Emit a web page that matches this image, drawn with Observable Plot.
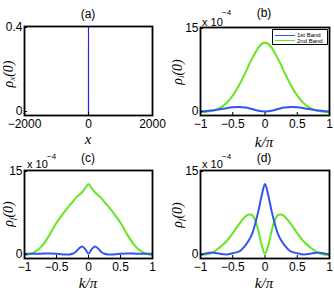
<!DOCTYPE html>
<html><head><meta charset="utf-8">
<script src="https://cdn.jsdelivr.net/npm/d3@7"></script>
<script src="https://cdn.jsdelivr.net/npm/@observablehq/plot@0.6"></script>
<style>
body{margin:0;background:#fff;}
#root{position:relative;width:334px;height:291px;overflow:hidden;background:#fff;font-family:"Liberation Sans",Arial,sans-serif;color:#000;}
.panel{position:absolute;}
.t{position:absolute;white-space:nowrap;line-height:1;}
.title{font-size:12px;transform:translate(-50%,-50%);}
.ylab{font-family:"Liberation Serif","DejaVu Serif",serif;font-style:italic;font-size:14px;line-height:0.8;transform:translate(-50%,-50%) rotate(-90deg);}
.xlab{font-family:"Liberation Serif","DejaVu Serif",serif;font-style:italic;font-size:15px;line-height:0.8;transform:translate(-50%,-50%);}
.ylab sub{font-size:9px;vertical-align:-2px;line-height:0.8;}
.exp{font-size:11px;transform:translateY(-50%);}
.sup{font-size:8px;transform:translateY(-50%);}
.legend{position:absolute;border:1.5px solid #000;background:#fff;box-sizing:border-box;}
.lrow{position:absolute;left:2px;height:6px;font-size:6px;line-height:6px;white-space:nowrap;}
.lrow span.sw{display:inline-block;width:20px;height:0;border-top:1.5px solid;vertical-align:middle;margin-right:2px;}
</style>
</head><body>
<div id="root"></div>
<script>
// ---- data ----
const xTicksA = [-2000, 0, 2000];
const xTickLabelsA = ["−2000", "0", "2000"];
const yTicksA = [0, 0.4];
const yTickLabelsA = ["0", "0.4"];
const kTicks = [-1, -0.5, 0, 0.5, 1];
const kTickLabels = ["−1", "−0.5", "0", "0.5", "1"];
const rhoTicks = [0, 15];
const rhoTickLabels = ["0", "15"];

// panel (a): spatial density, a single spike at x = 0
const posA = [-2000, -1, 0, 1, 2000];
const rhoA = [0, 0, 0.4, 0, 0];

// k grid (units of pi) for panels (b)-(d), values in units of 1e-4
const kValues = [-1,-0.9,-0.8,-0.7,-0.6,-0.5,-0.4,-0.3,-0.25,-0.2,-0.15,-0.1,-0.05,0,0.05,0.1,0.15,0.2,0.25,0.3,0.4,0.5,0.6,0.7,0.8,0.9,1];
const band1B = [0.7,0.75,0.9,1.05,1.25,1.4,1.45,1.35,1.25,1.1,0.95,0.8,0.72,0.7,0.72,0.8,0.95,1.1,1.25,1.35,1.45,1.4,1.25,1.05,0.9,0.75,0.7];
const band2B = [0.55,0.65,0.85,1.3,2.1,3.4,5.2,7.4,8.6,9.7,10.7,11.6,12.2,12.4,12.2,11.6,10.7,9.7,8.6,7.4,5.2,3.4,2.1,1.3,0.85,0.65,0.55];
const band1C = [0.8,0.8,0.8,0.85,0.85,0.8,0.7,0.7,0.8,1.1,1.7,2.05,1.6,0.8,1.6,2.05,1.7,1.1,0.8,0.7,0.7,0.8,0.85,0.85,0.8,0.8,0.8];
const band2C = [0.6,0.8,1.4,2.5,4.2,6.1,7.6,9.0,9.6,10.3,10.8,11.3,12.0,12.7,12.0,11.3,10.8,10.3,9.6,9.0,7.6,6.1,4.2,2.5,1.4,0.8,0.6];
const band1D = [0.7,0.9,1.0,0.8,0.7,0.9,1.2,2.3,3.1,4.2,6.0,8.2,10.8,12.7,10.8,8.2,6.0,4.2,3.1,2.3,1.2,0.9,0.7,0.8,1.0,0.9,0.7];
const band2D = [0.6,0.7,1.1,1.9,2.9,4.3,5.9,7.2,7.5,7.4,6.5,4.6,2.2,0.8,2.2,4.6,6.5,7.4,7.5,7.2,5.9,4.3,2.9,1.9,1.1,0.7,0.6];

const seriesNames = ["1st Band", "2nd Band"];
const BLUE = "#3355ee", GREEN = "#66e620";

const root = document.getElementById("root");
const baseStyle = {background: "transparent", fontFamily: "'Liberation Sans', Arial, sans-serif", fontSize: "12px", color: "#000", overflow: "visible"};

function place(svg, left, top) {
  const d = document.createElement("div");
  d.className = "panel"; d.style.left = left + "px"; d.style.top = top + "px";
  d.appendChild(svg); root.appendChild(d);
}
function txt(cls, html, x, y) {
  const e = document.createElement("div");
  e.className = "t " + cls; e.innerHTML = html;
  e.style.left = x + "px"; e.style.top = y + "px";
  root.appendChild(e);
}

// y axis split so the bottom label sits a little above its tick, as in the reference
function yAxes(ticks, labels) {
  return [
    Plot.axisY({ticks: [ticks[0]], tickFormat: () => labels[0], tickSize: -3, tickPadding: 5, label: null, fontSize: 12, dy: -4}),
    Plot.axisY({ticks: [ticks[1]], tickFormat: () => labels[1], tickSize: -3, tickPadding: 5, label: null, fontSize: 12, dy: 1})
  ];
}

// panel (a)
place(Plot.plot({
  width: 167, height: 145, marginLeft: 24, marginRight: 15, marginTop: 26, marginBottom: 30,
  style: baseStyle,
  x: {domain: [-2000, 2000]}, y: {domain: [0, 0.4]},
  marks: [
    Plot.line(posA, {x: (d) => d, y: rhoA, stroke: "#2b2bd6", strokeWidth: 1.2, clip: true}),
    Plot.axisX({ticks: xTicksA, tickFormat: (d, i) => xTickLabelsA[i], tickSize: -3, tickPadding: 7, label: null, fontSize: 12}),
    ...yAxes(yTicksA, yTickLabelsA),
    Plot.frame({stroke: "#000", strokeWidth: 1.8})
  ]
}), 0, 0);

function kPanel(blue, green, ml, mr, mt, h) {
  return Plot.plot({
    width: 167, height: h, marginLeft: ml, marginRight: mr, marginTop: mt, marginBottom: h - mt - 88,
    style: baseStyle,
    x: {domain: [-1, 1]}, y: {domain: [0, 15]},
    marks: [
      Plot.line(kValues, {x: (d) => d, y: green, stroke: GREEN, strokeWidth: 2, curve: "catmull-rom", clip: true}),
      Plot.line(kValues, {x: (d) => d, y: blue, stroke: BLUE, strokeWidth: 2, curve: "catmull-rom", clip: true}),
      Plot.axisX({ticks: kTicks, tickFormat: (d, i) => kTickLabels[i], tickSize: -3, tickPadding: 7, label: null, fontSize: 12}),
      ...yAxes(rhoTicks, rhoTickLabels),
      Plot.frame({stroke: "#000", strokeWidth: 1.8})
    ]
  });
}

place(kPanel(band1B, band2B, 33, 5, 27, 145), 167, 0);
place(kPanel(band1C, band2C, 24, 15, 25, 146), 0, 145);
place(kPanel(band1D, band2D, 33, 5, 25, 146), 167, 145);

// titles
txt("title", "(a)", 88, 14);
txt("title", "(b)", 264, 13);
txt("title", "(c)", 88, 158);
txt("title", "(d)", 264, 158);

// exponent labels
txt("exp", "x 10", 202, 22); txt("sup", "−4", 222, 13);
txt("exp", "x 10", 27, 164); txt("sup", "−4", 47, 157);
txt("exp", "x 10", 202, 164); txt("sup", "−4", 222, 157);

// axis labels
txt("ylab", "ρ<sub>x</sub>(0)", 10, 74);
txt("ylab", "ρ<sub>i</sub>(0)", 179, 72);
txt("ylab", "ρ<sub>f</sub>(0)", 10, 214);
txt("ylab", "ρ<sub>f</sub>(0)", 179, 215);
txt("xlab", "x", 88, 139);
txt("xlab", "k/π", 264, 142);
txt("xlab", "k/π", 88, 283);
txt("xlab", "k/π", 264, 283);

// legend for panel (b)
const lg = document.createElement("div");
lg.className = "legend";
lg.style.left = "272px"; lg.style.top = "29px"; lg.style.width = "56px"; lg.style.height = "16px";
[BLUE, GREEN].forEach((c, i) => {
  const r = document.createElement("div");
  r.className = "lrow"; r.style.top = (2 + i * 5.5) + "px";
  r.innerHTML = `<span class="sw" style="border-color:${c}"></span>${seriesNames[i]}`;
  lg.appendChild(r);
});
root.appendChild(lg);
</script>
</body></html>
